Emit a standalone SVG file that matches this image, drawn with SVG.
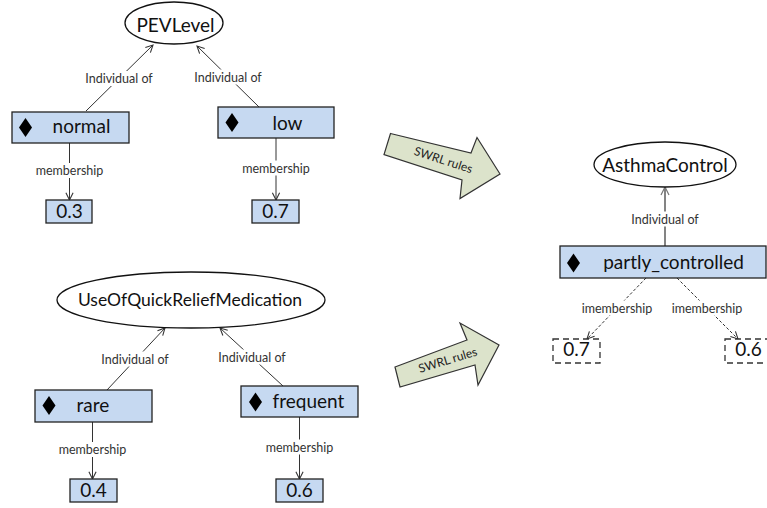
<svg xmlns="http://www.w3.org/2000/svg" width="767" height="508" viewBox="0 0 767 508">
  <defs>
    <marker id="open" viewBox="0 0 10 10" refX="9" refY="5" markerWidth="9" markerHeight="9" markerUnits="userSpaceOnUse" orient="auto">
      <path d="M1,1 L9,5 L1,9" fill="none" stroke="#333" stroke-width="1.2"/>
    </marker>
    <marker id="openGray" viewBox="0 0 10 10" refX="9" refY="5" markerWidth="10" markerHeight="10" markerUnits="userSpaceOnUse" orient="auto">
      <path d="M1,1 L9,5 L1,9" fill="none" stroke="#777" stroke-width="1.2"/>
    </marker>
    <path id="diamond" d="M0,-9.5 L6.5,0 L0,9.5 L-6.5,0 Z"/>
  </defs>
  <style>
    text { font-family: Lato, "Open Sans", "Liberation Sans", sans-serif; fill: #111; }
    .cls { fill: #fff; stroke: #111; stroke-width: 1.3; }
    .ind { fill: #c6d9f1; stroke: #222; stroke-width: 1.3; }
    .val { fill: #c6d9f1; stroke: #222; stroke-width: 1.3; }
    .inf { fill: #fff; stroke: #333; stroke-width: 1.3; stroke-dasharray: 6 4; }
    .big { font-size: 19px; text-anchor: middle; }
    .wide { font-size: 17.5px; }
    .lbl { font-size: 12.5px; text-anchor: middle; fill: #333; }
    .bg { fill: #fff; }
    .edge { fill: none; stroke: #333; stroke-width: 1; marker-end: url(#open); }
    .edgeGray { fill: none; stroke: #777; stroke-width: 1.8; marker-end: url(#openGray); }
    .edgeDash { fill: none; stroke: #333; stroke-width: 1; stroke-dasharray: 3 2; marker-end: url(#open); }
    .rule { fill: #dce3cb; stroke: #333; stroke-width: 1.2; stroke-linejoin: miter; }
    .ruleTxt { font-size: 12px; text-anchor: middle; fill: #222; }
  </style>

  <rect width="767" height="508" fill="#fff"/>

  <!-- connectors -->
  <g id="connectors">
    <path class="edge" d="M86,111 L153,45"/>
    <path class="edge" d="M259,107 L197,46"/>
    <path class="edge" d="M69.5,143 L69.5,200"/>
    <path class="edge" d="M276,138 L276,200"/>
    <path class="edge" d="M107,390 L165,328"/>
    <path class="edge" d="M283,386 L220,328"/>
    <path class="edge" d="M92.5,422 L92.5,479"/>
    <path class="edge" d="M299.5,417 L299.5,479"/>
    <path class="edgeGray" d="M665,246 L665,187"/>
    <path class="edgeDash" d="M646,278 L587,339"/>
    <path class="edgeDash" d="M677,278 L738,339"/>

    <!-- edge labels on white backing -->
    <rect class="bg" x="84" y="71" width="70" height="15"/>
    <text class="lbl" x="119" y="83">Individual of</text>
    <rect class="bg" x="193" y="69.5" width="70" height="15"/>
    <text class="lbl" x="228" y="81.5">Individual of</text>
    <rect class="bg" x="35" y="163" width="69" height="15"/>
    <text class="lbl" x="69.5" y="175">membership</text>
    <rect class="bg" x="241.5" y="160.5" width="69" height="15"/>
    <text class="lbl" x="276" y="172.5">membership</text>
    <rect class="bg" x="100" y="351.5" width="70" height="15"/>
    <text class="lbl" x="135" y="363.5">Individual of</text>
    <rect class="bg" x="217" y="349.5" width="70" height="15"/>
    <text class="lbl" x="252" y="361.5">Individual of</text>
    <rect class="bg" x="58" y="442" width="69" height="15"/>
    <text class="lbl" x="92.5" y="454">membership</text>
    <rect class="bg" x="265" y="439.5" width="69" height="15"/>
    <text class="lbl" x="299.5" y="451.5">membership</text>
    <rect class="bg" x="630" y="211.5" width="70" height="15"/>
    <text class="lbl" x="665" y="223.5">Individual of</text>
    <rect class="bg" x="581" y="300.5" width="72" height="15"/>
    <text class="lbl" x="617" y="312.5">imembership</text>
    <rect class="bg" x="671" y="300.5" width="72" height="15"/>
    <text class="lbl" x="707" y="312.5">imembership</text>
  </g>

  <!-- class nodes -->
  <g id="PEVLevel">
    <ellipse class="cls" cx="174" cy="23" rx="49" ry="21"/>
    <text class="big" x="175.5" y="32">PEVLevel</text>
  </g>
  <g id="UseOfQuickReliefMedication">
    <ellipse class="cls" cx="191" cy="300" rx="134" ry="28"/>
    <text class="big wide" x="190" y="306">UseOfQuickReliefMedication</text>
  </g>
  <g id="AsthmaControl">
    <ellipse class="cls" cx="665" cy="164.5" rx="71" ry="22.5"/>
    <text class="big" x="665" y="171.5">AsthmaControl</text>
  </g>

  <!-- individual nodes -->
  <g id="normal">
    <rect class="ind" x="12" y="112" width="117" height="31"/>
    <use href="#diamond" x="25.5" y="127.5"/>
    <text class="big" x="81.5" y="133">normal</text>
  </g>
  <g id="low">
    <rect class="ind" x="218" y="107" width="116" height="31"/>
    <use href="#diamond" x="232" y="122.5"/>
    <text class="big" x="287.5" y="129.5">low</text>
  </g>
  <g id="rare">
    <rect class="ind" x="35" y="390" width="117" height="32"/>
    <use href="#diamond" x="49" y="405.5"/>
    <text class="big" x="93" y="411.5">rare</text>
  </g>
  <g id="frequent">
    <rect class="ind" x="241" y="386" width="117" height="31"/>
    <use href="#diamond" x="255.5" y="402"/>
    <text class="big" x="308.5" y="408">frequent</text>
  </g>
  <g id="partly_controlled">
    <rect class="ind" x="560" y="246" width="206" height="32"/>
    <use href="#diamond" x="573.5" y="263"/>
    <text class="big" x="673.5" y="268.5">partly_controlled</text>
  </g>

  <!-- membership values -->
  <g id="val_normal">
    <rect class="val" x="46" y="200" width="46" height="23"/>
    <text class="big" x="69.5" y="218">0.3</text>
  </g>
  <g id="val_low">
    <rect class="val" x="252" y="200" width="47" height="23"/>
    <text class="big" x="275.5" y="218">0.7</text>
  </g>
  <g id="val_rare">
    <rect class="val" x="70" y="479" width="47" height="23"/>
    <text class="big" x="93.5" y="496.5">0.4</text>
  </g>
  <g id="val_frequent">
    <rect class="val" x="276" y="479" width="47" height="23"/>
    <text class="big" x="299.5" y="496.5">0.6</text>
  </g>

  <!-- inferred membership values -->
  <g id="inf_07">
    <rect class="inf" x="553" y="339" width="47" height="24"/>
    <text class="big" x="576.5" y="356">0.7</text>
  </g>
  <g id="inf_06">
    <rect class="inf" x="725" y="339" width="47" height="24"/>
    <text class="big" x="748.5" y="356">0.6</text>
  </g>

  <!-- rule application arrows -->
  <g id="swrl_top">
    <polygon class="rule" points="390.5,133.5 471,153 477,137.5 500,174 460,198.5 462,180 384,154.5"/>
    <text class="ruleTxt" transform="translate(442,164) rotate(18)">SWRL rules</text>
  </g>
  <g id="swrl_bottom">
    <polygon class="rule" points="395,367 467,340 460,323 499,345 478,385 475,365 400,387"/>
    <text class="ruleTxt" transform="translate(449,364) rotate(-17)">SWRL rules</text>
  </g>
</svg>
